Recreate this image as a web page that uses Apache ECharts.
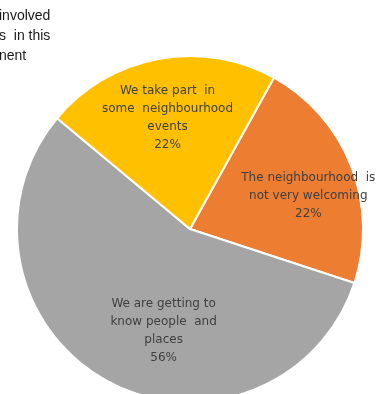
<!DOCTYPE html>
<html><head><meta charset="utf-8">
<script src="https://cdn.jsdelivr.net/npm/echarts@6/dist/echarts.min.js"></script>
<style>html,body{margin:0;padding:0;background:#fff;}#c{width:387px;height:394px;}</style>
</head><body><div id="c"></div>
<script>
const categories = [
  "The neighbourhood  is\nnot very welcoming",
  "We are getting to\nknow people  and\nplaces",
  "We take part  in\nsome  neighbourhood\nevents"
];
const values = [22, 56, 22];
const titleLines = ["involved", "s  in this", "nent"];

const colors = ["#ED7D31", "#A5A5A5", "#FFC000"];
const labelShift = [[35, 0], [17, 24], [-6, -23]];

const chart = echarts.init(document.getElementById('c'), null, {renderer: 'canvas'});
chart.setOption({
  animation: false,
  backgroundColor: '#ffffff',
  graphic: titleLines.map((t, i) => ({
    type: 'text', left: -1, top: 9 + i * 20,
    style: {text: t, fill: '#1a1a1a', font: '14px "Liberation Sans", sans-serif'}
  })),
  series: [{
    type: 'pie',
    center: [190, 229],
    radius: [0, 173],
    startAngle: 61,
    clockwise: true,
    avoidLabelOverlap: false,
    itemStyle: {borderColor: '#ffffff', borderWidth: 2},
    label: {
      show: true, position: 'inside',
      formatter: p => p.name + '\n' + p.value + '%',
      color: '#404040', fontFamily: 'DejaVu Sans', fontSize: 12, lineHeight: 18, align: 'center'
    },
    labelLine: {show: false},
    labelLayout: p => ({dx: labelShift[p.dataIndex][0], dy: labelShift[p.dataIndex][1]}),
    emphasis: {disabled: true},
    data: categories.map((c, i) => ({name: c, value: values[i], itemStyle: {color: colors[i]}}))
  }]
});
</script></body></html>
